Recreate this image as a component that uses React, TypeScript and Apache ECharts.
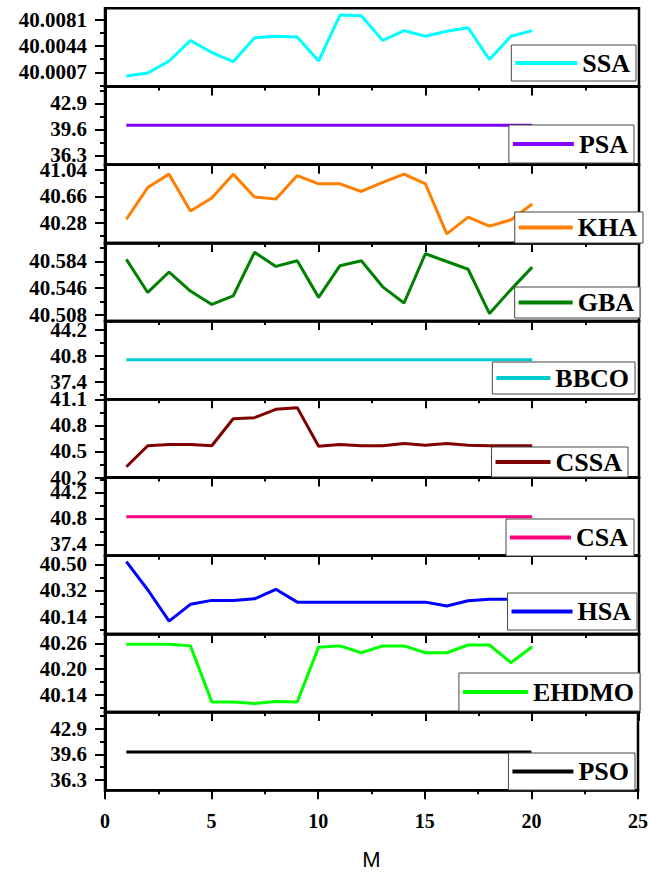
import React, { useEffect, useRef } from "react";
import * as echarts from "echarts";

const xValues = [1, 2, 3, 4, 5, 6, 7, 8, 9, 10, 11, 12, 13, 14, 15, 16, 17, 18, 19, 20];
const xTicks = [0, 5, 10, 15, 20, 25];

const seriesNames = ["SSA", "PSA", "KHA", "GBA", "BBCO", "CSSA", "CSA", "HSA", "EHDMO", "PSO"];
const seriesColors = ["#00FFFF", "#7F00FF", "#FF8000", "#008000", "#00CCCC", "#800000", "#FF0080", "#0000FF", "#00FF00", "#000000"];

const ssa = [40.00018, 40.0006, 40.0023, 40.0052, 40.0035, 40.0022, 40.0056, 40.0058, 40.0057, 40.0023, 40.0088, 40.0087, 40.0052, 40.0066, 40.0058, 40.0065, 40.007, 40.0025, 40.0058, 40.0066];
const psa = [40.11, 40.11, 40.11, 40.11, 40.11, 40.11, 40.11, 40.11, 40.11, 40.11, 40.11, 40.11, 40.11, 40.11, 40.11, 40.11, 40.11, 40.11, 40.11, 40.11];
const kha = [40.33, 40.786, 40.98, 40.45, 40.635, 40.98, 40.65, 40.62, 40.96, 40.84, 40.84, 40.73, 40.86, 40.98, 40.84, 40.12, 40.36, 40.23, 40.32, 40.55];
const gba = [40.587, 40.54, 40.569, 40.542, 40.523, 40.535, 40.597, 40.577, 40.585, 40.533, 40.578, 40.585, 40.548, 40.525, 40.595, 40.584, 40.573, 40.51, 40.544, 40.576];
const bbco = [40.3, 40.3, 40.3, 40.3, 40.3, 40.3, 40.3, 40.3, 40.3, 40.3, 40.3, 40.3, 40.3, 40.3, 40.3, 40.3, 40.3, 40.3, 40.3, 40.3];
const cssa = [40.324, 40.566, 40.58, 40.58, 40.566, 40.876, 40.888, 40.985, 41.004, 40.56, 40.58, 40.566, 40.566, 40.59, 40.57, 40.59, 40.57, 40.566, 40.566, 40.566];
const csa = [41.0, 41.0, 41.0, 41.0, 41.0, 41.0, 41.0, 41.0, 41.0, 41.0, 41.0, 41.0, 41.0, 41.0, 41.0, 41.0, 41.0, 41.0, 41.0, 41.0];
const hsa = [40.518, 40.325, 40.11, 40.225, 40.252, 40.252, 40.263, 40.328, 40.24, 40.24, 40.24, 40.24, 40.24, 40.24, 40.24, 40.213, 40.25, 40.26, 40.26, 40.255];
const ehdmo = [40.258, 40.258, 40.258, 40.254, 40.124, 40.124, 40.12, 40.125, 40.124, 40.251, 40.254, 40.238, 40.254, 40.254, 40.238, 40.238, 40.256, 40.256, 40.215, 40.252];
const pso = [39.92, 39.92, 39.92, 39.92, 39.92, 39.92, 39.92, 39.92, 39.92, 39.92, 39.92, 39.92, 39.92, 39.92, 39.92, 39.92, 39.92, 39.92, 39.92, 39.92];
const seriesValues = [ssa, psa, kha, gba, bbco, cssa, csa, hsa, ehdmo, pso];

// y tick labels per panel
const yTickLabels = [
  [40.0007, 40.0044, 40.0081],
  [36.3, 39.6, 42.9],
  [40.28, 40.66, 41.04],
  [40.508, 40.546, 40.584],
  [37.4, 40.8, 44.2],
  [40.2, 40.5, 40.8, 41.1],
  [37.4, 40.8, 44.2],
  [40.14, 40.32, 40.5],
  [40.14, 40.2, 40.26],
  [36.3, 39.6, 42.9],
];
const yDecimals = [4, 1, 2, 3, 1, 1, 1, 2, 2, 1];
const yMin = [39.998691, 35.107, 39.989, 40.4993, 35.138, 40.2, 35.909, 40.0218, 40.1003, 34.967];
const yMax = [40.009756, 45.032, 41.116, 40.6104, 45.364, 41.1, 46.135, 40.559, 40.2818, 45.087];

// layout (positions, not data)
const W = 651;
const H = 872;
const GRID_LEFT = 105;
const GRID_RIGHT = 639;
const GRID_TOP = 8.3;
const PANEL_H = 78.2;
const legendLayout = [
  { right: 636, top: 45, h: 36, iw: 62 },
  { right: 634, top: 125, h: 38, iw: 61 },
  { right: 643, top: 212, h: 31, iw: 54 },
  { right: 640, top: 287, h: 31, iw: 54 },
  { right: 635, top: 362, h: 32, iw: 54 },
  { right: 628, top: 447, h: 30, iw: 55 },
  { right: 634, top: 519, h: 37, iw: 61 },
  { right: 637, top: 593, h: 37, iw: 61 },
  { right: 640, top: 673, h: 38, iw: 65 },
  { right: 635, top: 753, h: 37, iw: 61 },
];

const SERIF = "'Liberation Serif', 'Times New Roman', serif";

export default function App() {
  const ref = useRef<HTMLDivElement>(null);
  useEffect(() => {
    if (!ref.current) return;
    const chart = echarts.init(ref.current, undefined, { renderer: "svg" });
    const n = seriesNames.length;
    const grids: any[] = [];
    const xAxes: any[] = [];
    const yAxes: any[] = [];
    const series: any[] = [];
    const legends: any[] = [];
    for (let i = 0; i < n; i++) {
      grids.push({
        left: GRID_LEFT,
        width: GRID_RIGHT - GRID_LEFT,
        top: GRID_TOP + i * PANEL_H,
        height: PANEL_H,
        show: true,
        borderColor: "#000",
        borderWidth: 2.5,
        backgroundColor: "transparent",
      });
      const last = i === n - 1;
      xAxes.push({
        gridIndex: i,
        type: "value",
        min: xTicks[0],
        max: xTicks[xTicks.length - 1],
        interval: xTicks[1] - xTicks[0],
        axisLine: { show: true, onZero: false, lineStyle: { color: "#000", width: 2.5 } },
        axisTick: { show: true, inside: false, length: 9, lineStyle: { color: "#000", width: 2 } },
        minorTick: { show: true, splitNumber: 2, length: 4, lineStyle: { color: "#000", width: 2 } },
        axisLabel: {
          show: last,
          fontFamily: SERIF,
          fontWeight: "bold",
          fontSize: 20,
          color: "#000",
          margin: 21,
        },
        splitLine: { show: false },
        minorSplitLine: { show: false },
        name: last ? "M" : "",
        nameLocation: "middle",
        nameGap: 58,
        nameTextStyle: { fontFamily: "'Liberation Sans', Arial, sans-serif", fontSize: 22, color: "#000" },
      });
      const ticks = yTickLabels[i];
      const step = ticks[1] - ticks[0];
      const minors: number[] = [];
      for (let k = -1; k < ticks.length; k++) {
        const v = ticks[0] + (k + 0.5) * step;
        if (v >= yMin[i] && v <= yMax[i]) minors.push(v);
      }
      const d = yDecimals[i];
      yAxes.push({
        gridIndex: i,
        type: "value",
        min: yMin[i],
        max: yMax[i],
        position: "left",
        axisLine: { show: true, onZero: false, lineStyle: { color: "#000", width: 3 } },
        axisTick: { show: true, length: 10, customValues: ticks, lineStyle: { color: "#000", width: 2 } },
        axisLabel: {
          customValues: ticks,
          formatter: (v: number) => Number(v).toFixed(d),
          fontFamily: SERIF,
          fontWeight: "bold",
          fontSize: 21,
          color: "#000",
          margin: 18,
        },
        splitLine: { show: false },
      });
      yAxes.push({
        gridIndex: i,
        type: "value",
        min: yMin[i],
        max: yMax[i],
        position: "left",
        axisLine: { show: false, onZero: false },
        axisTick: { show: true, length: 5, customValues: minors, lineStyle: { color: "#000", width: 2 } },
        axisLabel: { show: false },
        splitLine: { show: false },
      });
      series.push({
        type: "line",
        name: seriesNames[i],
        xAxisIndex: i,
        yAxisIndex: 2 * i,
        data: xValues.map((x, j) => [x, seriesValues[i][j]]),
        symbol: "none",
        showSymbol: false,
        color: seriesColors[i],
        lineStyle: { color: seriesColors[i], width: 3 },
        clip: false,
      });
      const L = legendLayout[i];
      const p = (L.h - 26) / 2;
      legends.push({
        data: [seriesNames[i]],
        right: W - L.right,
        top: L.top,
        orient: "horizontal",
        icon: "rect",
        itemWidth: L.iw,
        itemHeight: 4,
        itemGap: 0,
        selectedMode: false,
        borderColor: "#444",
        borderWidth: 1,
        borderRadius: 0,
        backgroundColor: "#fff",
        padding: [p, 6, p, 4],
        textStyle: { fontFamily: SERIF, fontWeight: "bold", fontSize: 26, color: "#000", lineHeight: 26 },
      });
    }
    chart.setOption({
      animation: false,
      backgroundColor: "#fff",
      grid: grids,
      xAxis: xAxes,
      yAxis: yAxes,
      series,
      legend: legends,
    });
    return () => chart.dispose();
  }, []);
  return (
    <div
      ref={ref}
      style={{ position: "absolute", left: 0, top: 0, width: W, height: H }}
    />
  );
}
